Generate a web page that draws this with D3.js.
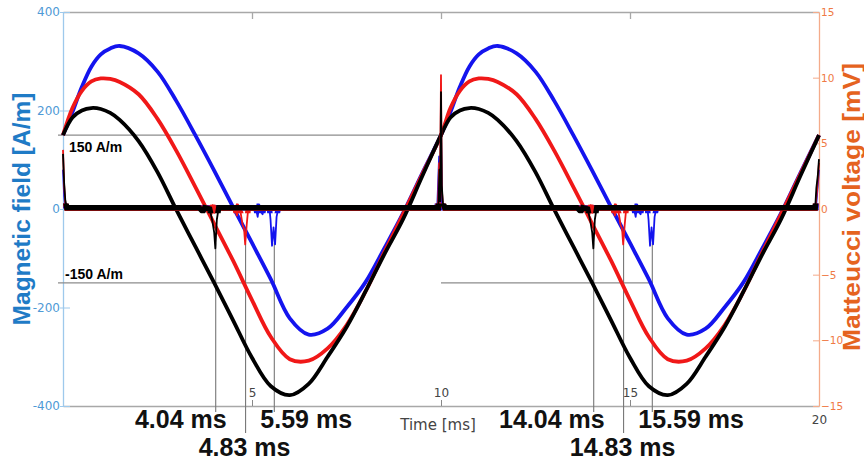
<!DOCTYPE html>
<html>
<head>
<meta charset="utf-8">
<script src="https://cdn.jsdelivr.net/npm/d3@7"></script>
<style>
  html, body { margin: 0; padding: 0; background: #fff; }
  svg { display: block; }
  .tick text { font-family: "DejaVu Sans", sans-serif; font-size: 12px; }
  .right-axis .tick text { font-size: 10.5px; }
</style>
</head>
<body>
<svg id="chart" width="864" height="466"></svg>
<script>
// time axis of the field traces (ms)
const timeMs = [
  0, 0.25, 0.5, 0.75, 1, 1.25, 1.5, 2, 2.5, 3, 3.5, 4, 4.5, 5, 5.5, 6, 6.5, 7, 7.5, 8, 8.5, 9, 9.5, 10,
  10.25, 10.5, 10.75, 11, 11.25, 11.5, 12, 12.5, 13, 13.5, 14, 14.5, 15, 15.5, 16, 16.5, 17, 17.5, 18, 18.5, 19, 19.5, 20,
];

// magnetic field (A/m)
const fieldBlue = [
  150, 197, 248, 289, 314, 326, 331, 316, 279, 219, 150, 78, 4, -69, -143, -222, -255, -243, -200, -149, -80, -8, 72, 150,
  197, 248, 289, 314, 326, 331, 316, 279, 219, 150, 78, 4, -69, -143, -222, -255, -243, -200, -149, -80, -8, 72, 150,
];
const fieldRed = [
  150, 205, 240, 259, 265, 264, 258, 233, 183, 118, 45, -30, -105, -185, -260, -305, -308, -283, -236, -168, -88, -10, 70, 150,
  205, 240, 259, 265, 264, 258, 233, 183, 118, 45, -30, -105, -185, -260, -305, -308, -283, -236, -168, -88, -10, 70, 150,
];
const fieldBlack = [
  150, 186, 200, 205, 203, 195, 181, 138, 75, -2, -76, -150, -226, -302, -360, -378, -355, -300, -240, -168, -92, -20, 66, 150,
  186, 200, 205, 203, 195, 181, 138, 75, -2, -76, -150, -226, -302, -360, -378, -355, -300, -240, -168, -92, -20, 66, 150,
];

// Matteucci voltage (mV), [time ms, value]
const voltBlue = [
  [0, 3.0], [0.03, 1.0], [0.06, 0.2], [0.1, 0.1], [5.1, 0.1], [5.15, -0.6], [5.18, 0.1], [5.28, -0.4], [5.31, 0.1],
  [5.46, 0.1], [5.49, -0.8], [5.53, -2.8], [5.57, -1.4], [5.61, -2.7], [5.65, -0.6], [5.7, 0.1],
  [9.9, 0.1], [9.95, 4.0], [9.98, 0.5], [10.0, 6.0], [10.03, 0.1],
  [15.1, 0.1], [15.15, -0.6], [15.18, 0.1], [15.28, -0.4], [15.31, 0.1],
  [15.46, 0.1], [15.49, -0.8], [15.53, -2.8], [15.57, -1.4], [15.61, -2.7], [15.65, -0.6], [15.7, 0.1],
  [19.92, 0.1], [19.96, 1.5], [20, 3.0],
];
const voltRed = [
  [0, 4.5], [0.03, 1.8], [0.06, 0.5], [0.1, 0.05], [3.9, 0.05], [3.93, -0.4], [3.96, 0.3], [4.0, -0.3], [4.03, 0.05],
  [4.55, 0.05], [4.6, -0.5], [4.63, 0.05], [4.7, -0.3], [4.75, -1.2], [4.79, -1.5], [4.82, -2.7], [4.86, -1.2], [4.9, 0.05],
  [9.92, 0.05], [9.95, 3.5], [9.97, 0.4], [10.0, 10.2], [10.02, 1.5], [10.05, 0.4], [10.1, 0.05],
  [13.9, 0.05], [13.93, -0.4], [13.96, 0.3], [14.0, -0.3], [14.03, 0.05],
  [14.55, 0.05], [14.6, -0.5], [14.63, 0.05], [14.7, -0.3], [14.75, -1.2], [14.79, -1.5], [14.82, -2.7], [14.86, -1.2], [14.9, 0.05],
  [19.9, 0.05], [19.95, 1.5], [20, 3.5],
];
const voltBlack = [
  [0, 4.2], [0.03, 2.0], [0.06, 0.7], [0.1, 0.1], [3.6, 0.1], [3.7, -0.2], [3.75, 0.1], [3.88, 0.0],
  [3.95, -0.9], [4.0, -1.8], [4.03, -3.0], [4.07, -0.8], [4.12, 0.1],
  [9.93, 0.1], [9.96, 3.0], [9.98, 0.6], [10.0, 8.9], [10.02, 1.8], [10.05, 0.5], [10.1, 0.1],
  [13.6, 0.1], [13.7, -0.2], [13.75, 0.1], [13.88, 0.0],
  [13.95, -0.9], [14.0, -1.8], [14.03, -3.0], [14.07, -0.8], [14.12, 0.1],
  [19.9, 0.1], [19.93, 1.6], [19.97, 2.6], [20, 3.8],
];

// reference levels (A/m) and their extents (ms)
const refLevel = [150, -150, -150];
const refFrom = [0, 0, 10];
const refTo = [10, 5.59, 15.59];

// times where the field passes -150 A/m
const markTimes = [4.04, 4.83, 5.59, 14.04, 14.83, 15.59];
const markLabels = ["4.04 ms", "4.83 ms", "5.59 ms", "14.04 ms", "14.83 ms", "15.59 ms"];
const markRow = [0, 1, 0, 0, 1, 0];
const markAnchor = ["end", "middle", "start", "end", "middle", "start"];

const timeTicks = [5, 10, 15, 20];
const fieldTicks = [-400, -200, 0, 200, 400];
const voltTicks = [-15, -10, -5, 0, 5, 10, 15];

const colors = { blue: "#1414ee", red: "#f01818", black: "#000000" };

const width = 864;
const height = 466;
const margin = { top: 12, right: 45, bottom: 60, left: 63 };
const innerWidth = width - margin.left - margin.right;
const innerHeight = height - margin.top - margin.bottom;

const svg = d3.select("#chart");
const g = svg.append("g").attr("transform", `translate(${margin.left},${margin.top})`);

const xScale = d3.scaleLinear().domain([0, 20]).range([0, innerWidth]);
const yField = d3.scaleLinear().domain([-400, 400]).range([innerHeight, 0]);
const yVolt = d3.scaleLinear().domain([-15, 15]).range([innerHeight, 0]);

// top border with inward ticks
const topAxis = g.append("g").call(
  d3.axisTop(xScale).tickValues([5, 10, 15]).tickSize(-7).tickSizeOuter(0).tickFormat("")
);
topAxis.selectAll("path, line").attr("stroke", "#a8a8a8").attr("stroke-width", 1.3);

// bottom time axis
const bottomAxis = g
  .append("g")
  .attr("transform", `translate(0,${innerHeight})`)
  .call(d3.axisBottom(xScale).tickValues(timeTicks).tickSize(-6).tickSizeOuter(0).tickFormat(d3.format("d")));
bottomAxis.select(".domain").attr("stroke", "#a8a8a8").attr("stroke-width", 1.3);
bottomAxis.selectAll(".tick line").attr("stroke", "#888");
bottomAxis
  .selectAll(".tick text")
  .attr("fill", "#444")
  .attr("y", (d) => (d === 20 ? 9 : -9))
  .attr("dy", (d) => (d === 20 ? "0.71em" : "0"));

// left field axis
const leftAxis = g.append("g").call(
  d3.axisLeft(yField).tickValues(fieldTicks).tickSize(3).tickPadding(0).tickSizeOuter(0).tickFormat((d) => String(d))
);
leftAxis.select(".domain").attr("stroke", "#9ec9ec").attr("stroke-width", 1.3);
leftAxis.selectAll(".tick line").attr("stroke", "#9ec9ec").attr("x1", 7);
leftAxis.selectAll(".tick text").attr("fill", "#4f9ad6");

// right voltage axis
const rightAxis = g
  .append("g")
  .attr("class", "right-axis")
  .attr("transform", `translate(${innerWidth},0)`)
  .call(d3.axisRight(yVolt).tickValues(voltTicks).tickSize(-6).tickPadding(2).tickSizeOuter(0));
rightAxis.select(".domain").attr("stroke", "#f4ab8a").attr("stroke-width", 1.3);
rightAxis.selectAll(".tick line").attr("stroke", "#f4ab8a");
rightAxis.selectAll(".tick text").attr("fill", "#ef7a44");

// reference lines at +/-150 A/m
const refs = refLevel.map((h, i) => ({ h, from: refFrom[i], to: refTo[i] }));
g.append("g")
  .selectAll("line")
  .data(refs)
  .join("line")
  .attr("x1", (d) => xScale(d.from) - (d.from === 0 ? 5 : 0))
  .attr("x2", (d) => xScale(d.to))
  .attr("y1", (d) => yField(d.h))
  .attr("y2", (d) => yField(d.h))
  .attr("stroke", "#8c8c8c")
  .attr("stroke-width", 1.2);

g.append("text")
  .attr("x", 6)
  .attr("y", yField(150) + 17)
  .attr("font-family", "'Liberation Sans', Arial, sans-serif")
  .attr("font-weight", "bold")
  .attr("font-size", 14)
  .text("150 A/m");
g.append("text")
  .attr("x", 2)
  .attr("y", yField(-150) - 4)
  .attr("font-family", "'Liberation Sans', Arial, sans-serif")
  .attr("font-weight", "bold")
  .attr("font-size", 14)
  .text("-150 A/m");

// vertical markers
const marks = markTimes.map((t, i) => ({ t, label: markLabels[i], row: markRow[i], anchor: markAnchor[i] }));
g.append("g")
  .selectAll("line")
  .data(marks)
  .join("line")
  .attr("x1", (d) => xScale(d.t))
  .attr("x2", (d) => xScale(d.t))
  .attr("y1", yVolt(-2.6))
  .attr("y2", (d) => innerHeight + (d.row ? 27 : 6))
  .attr("stroke", "#777")
  .attr("stroke-width", 1.1);

g.append("g")
  .selectAll("text")
  .data(marks)
  .join("text")
  .attr("x", (d) => xScale(d.t) + (d.anchor === "end" ? 11 : d.anchor === "start" ? -14 : -1))
  .attr("y", (d) => innerHeight + (d.row ? 50 : 22))
  .attr("text-anchor", (d) => d.anchor)
  .attr("font-family", "'Liberation Sans', Arial, sans-serif")
  .attr("font-weight", "bold")
  .attr("font-size", 25)
  .attr("fill", "#111")
  .text((d) => d.label);

// field curves
const fieldLine = d3
  .line()
  .x((d) => xScale(d[0]))
  .y((d) => yField(d[1]))
  .curve(d3.curveCatmullRom.alpha(0.5));

const fieldSeries = [
  { values: fieldBlue, color: colors.blue },
  { values: fieldRed, color: colors.red },
  { values: fieldBlack, color: colors.black },
];
g.append("g")
  .selectAll("path")
  .data(fieldSeries)
  .join("path")
  .attr("d", (d) => fieldLine(d.values.map((v, i) => [timeMs[i], v])))
  .attr("fill", "none")
  .attr("stroke", (d) => d.color)
  .attr("stroke-width", 3.8)
  .attr("stroke-linejoin", "round");

// voltage traces: thin line, plus a thick noisy band around zero
svg
  .append("defs")
  .append("clipPath")
  .attr("id", "band-clip")
  .append("rect")
  .attr("x", 0)
  .attr("y", yVolt(0.42))
  .attr("width", innerWidth)
  .attr("height", yVolt(-0.32) - yVolt(0.42));

const voltLine = d3
  .line()
  .x((d) => xScale(d[0]))
  .y((d) => yVolt(d[1]));

const voltSeries = [
  { values: voltBlue, color: colors.blue },
  { values: voltRed, color: colors.red },
  { values: voltBlack, color: colors.black },
];
const voltGroup = g.append("g");
voltSeries.forEach((s) => {
  voltGroup
    .append("path")
    .attr("d", voltLine(s.values))
    .attr("fill", "none")
    .attr("stroke", s.color)
    .attr("stroke-width", 5.5)
    .attr("clip-path", "url(#band-clip)");
  voltGroup
    .append("path")
    .attr("d", voltLine(s.values))
    .attr("fill", "none")
    .attr("stroke", s.color)
    .attr("stroke-width", 1.8)
    .attr("stroke-linejoin", "round");
});

// axis titles
svg
  .append("text")
  .attr("transform", `translate(30,${margin.top + yField(0)}) rotate(-90)`)
  .attr("text-anchor", "middle")
  .attr("font-family", "'Liberation Sans', Arial, sans-serif")
  .attr("font-weight", "bold")
  .attr("font-size", 24.5)
  .attr("fill", "#1f7bc6")
  .text("Magnetic field [A/m]");

svg
  .append("text")
  .attr("transform", `translate(859.5,${margin.top + yVolt(0) - 2}) rotate(-90)`)
  .attr("text-anchor", "middle")
  .attr("font-family", "'Liberation Sans', Arial, sans-serif")
  .attr("font-weight", "bold")
  .attr("font-size", 23.5)
  .attr("textLength", 288)
  .attr("lengthAdjust", "spacingAndGlyphs")
  .attr("fill", "#e5631f")
  .text("Matteucci voltage [mV]");

g.append("text")
  .attr("x", xScale(10) - 3)
  .attr("y", innerHeight + 24)
  .attr("text-anchor", "middle")
  .attr("font-family", "'DejaVu Sans', sans-serif")
  .attr("font-size", 15)
  .attr("fill", "#444")
  .text("Time [ms]");
</script>
</body>
</html>
